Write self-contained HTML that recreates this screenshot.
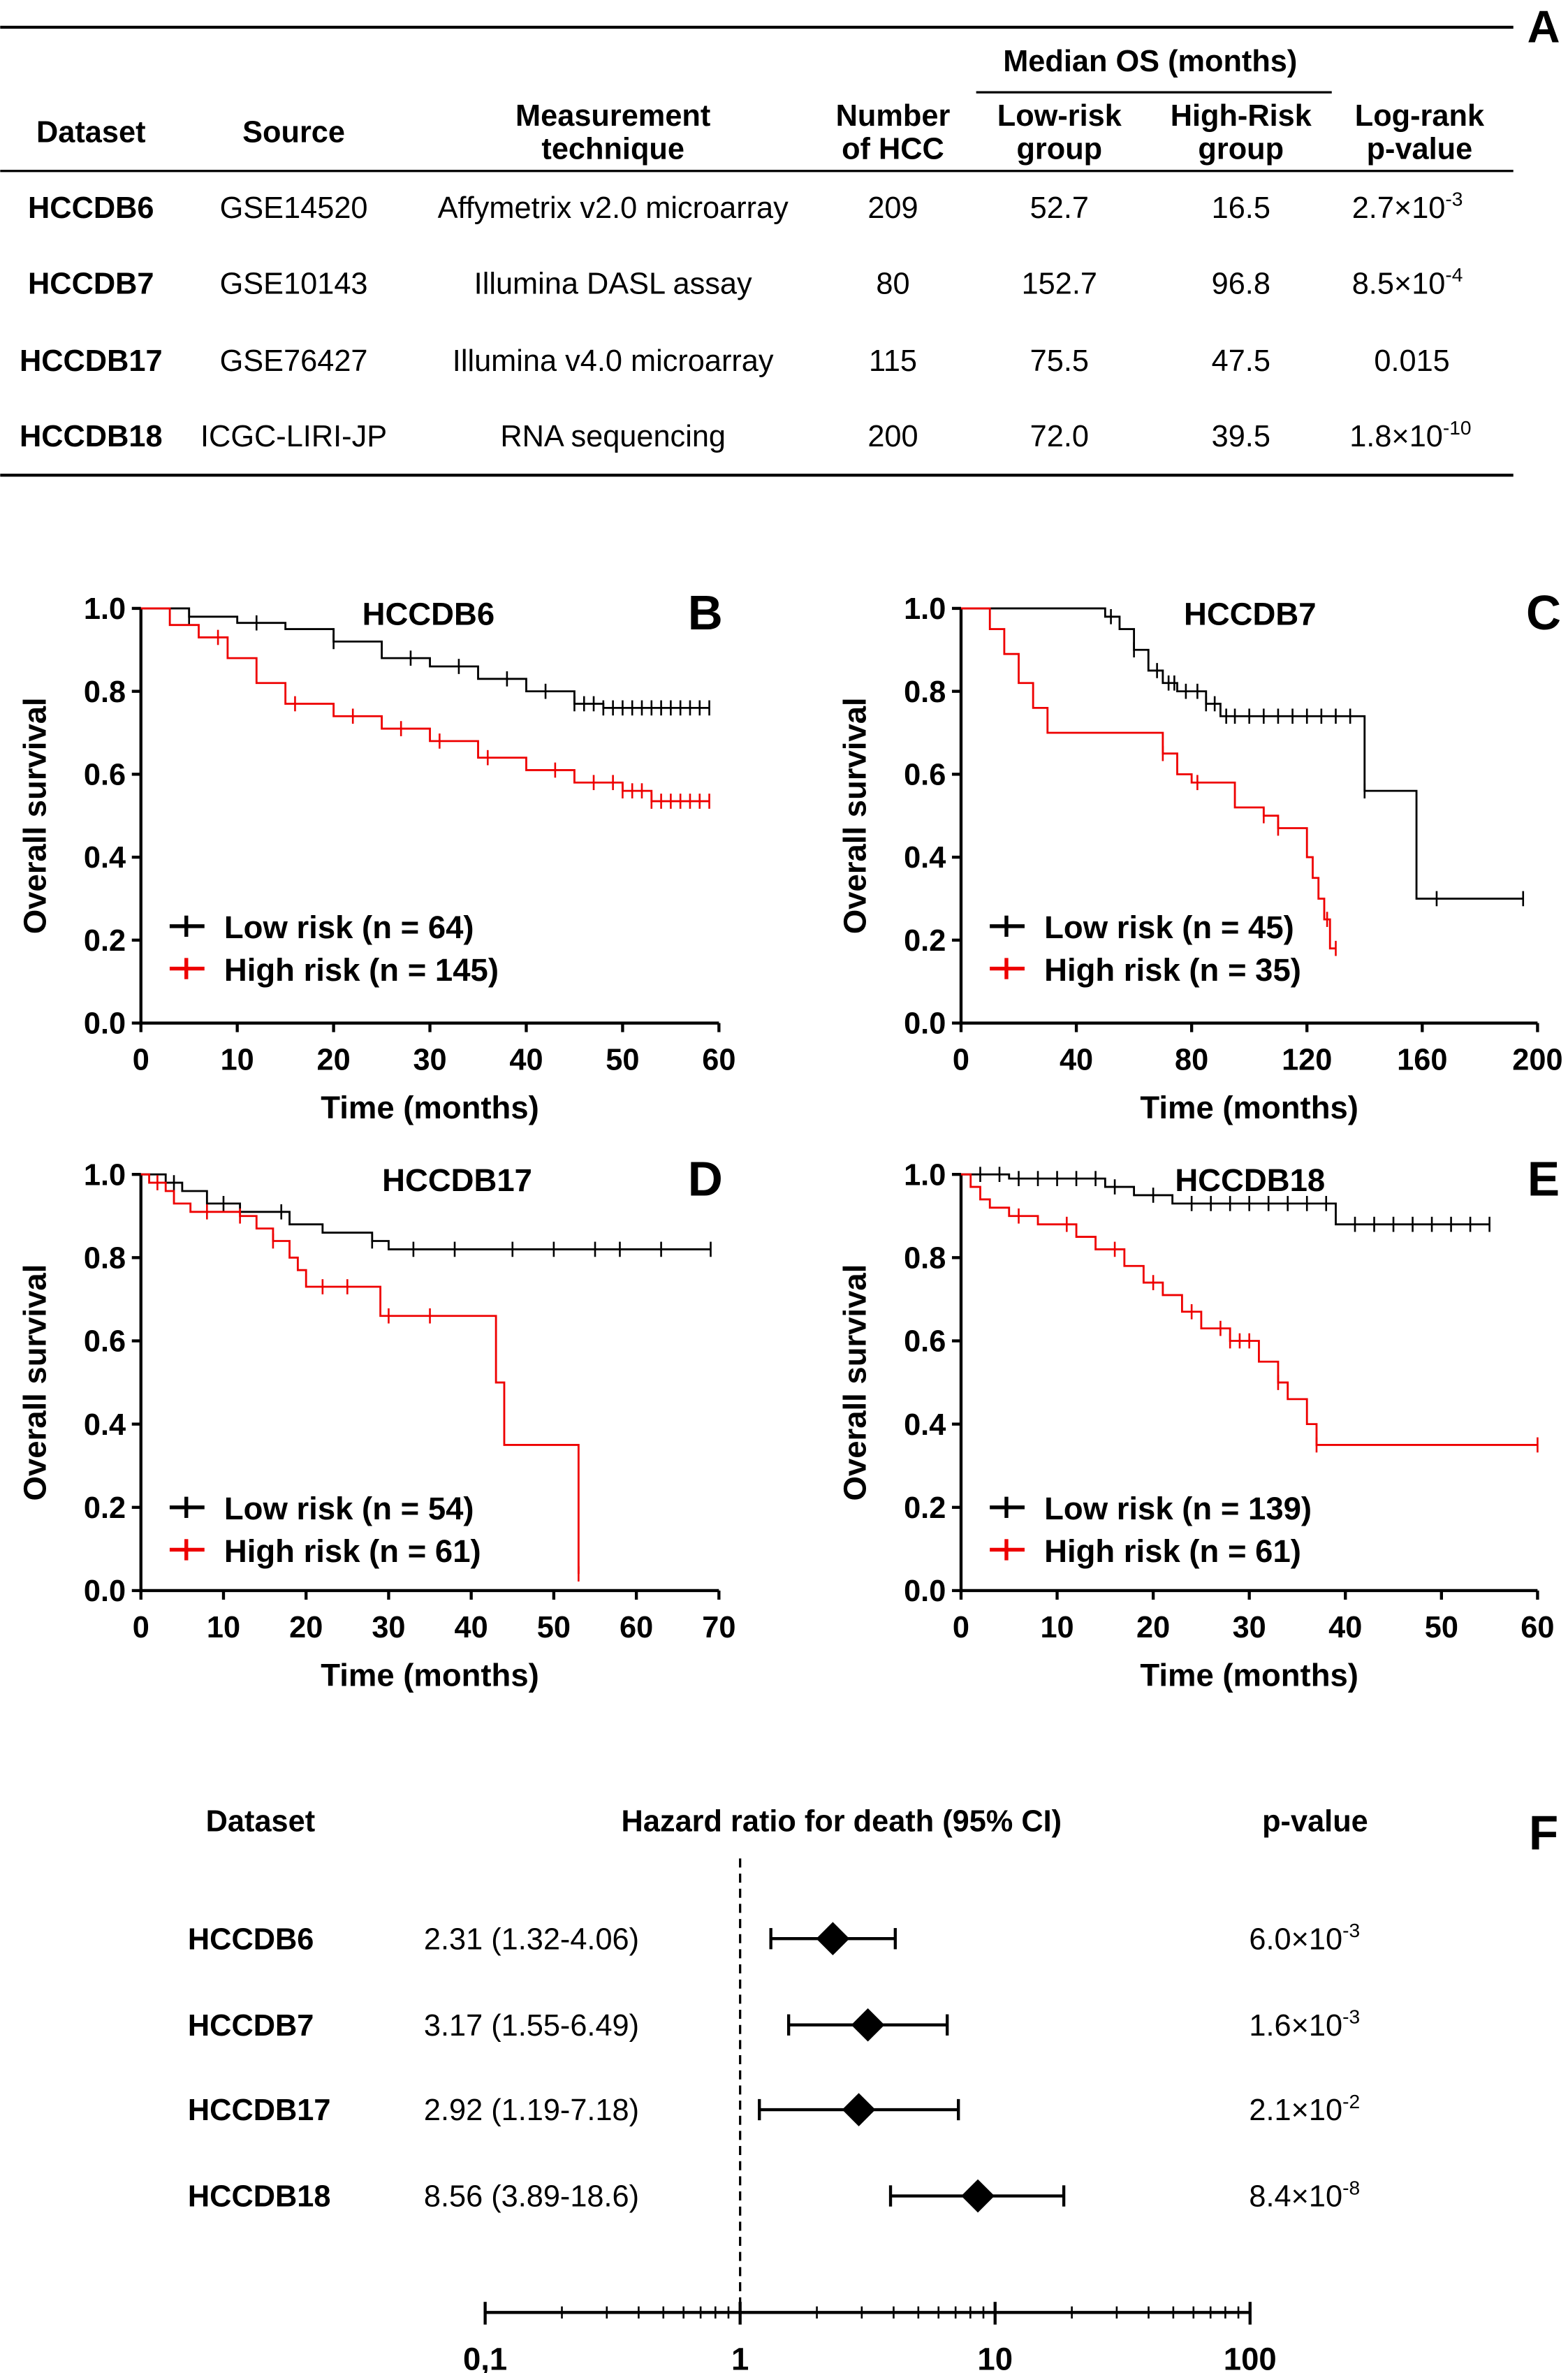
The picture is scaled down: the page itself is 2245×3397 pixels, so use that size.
<!DOCTYPE html>
<html><head><meta charset="utf-8"><style>
html,body{margin:0;padding:0;background:#fff}
svg{display:block;font-family:"Liberation Sans",Arial,sans-serif}
</style></head><body>
<svg id="fig" width="2245" height="3397" viewBox="0 0 1036 1568" xmlns="http://www.w3.org/2000/svg">
<g id="table" font-size="20" text-anchor="middle">
<line x1="0" y1="18" x2="1000" y2="18" stroke="#000" stroke-width="2"/>
<text x="1020" y="28" font-size="30" font-weight="bold">A</text>
<text x="760" y="47" font-weight="bold">Median OS (months)</text>
<line x1="645" y1="61" x2="880" y2="61" stroke="#000" stroke-width="1.5"/>
<g font-weight="bold">
<text x="60" y="94">Dataset</text><text x="194" y="94">Source</text>
<text x="405" y="83">Measurement</text><text x="405" y="105">technique</text>
<text x="590" y="83">Number</text><text x="590" y="105">of HCC</text>
<text x="700" y="83">Low-risk</text><text x="700" y="105">group</text>
<text x="820" y="83">High-Risk</text><text x="820" y="105">group</text>
<text x="938" y="83">Log-rank</text><text x="938" y="105">p-value</text>
</g>
<line x1="0" y1="113" x2="1000" y2="113" stroke="#000" stroke-width="1.5"/>
<g>
<text x="60" y="144" font-weight="bold">HCCDB6</text><text x="194" y="144">GSE14520</text><text x="405" y="144">Affymetrix v2.0 microarray</text><text x="590" y="144">209</text><text x="700" y="144">52.7</text><text x="820" y="144">16.5</text><text x="930" y="144">2.7×10<tspan font-size="13" dy="-8">-3</tspan></text>
<text x="60" y="194" font-weight="bold">HCCDB7</text><text x="194" y="194">GSE10143</text><text x="405" y="194">Illumina DASL assay</text><text x="590" y="194">80</text><text x="700" y="194">152.7</text><text x="820" y="194">96.8</text><text x="930" y="194">8.5×10<tspan font-size="13" dy="-8">-4</tspan></text>
<text x="60" y="245" font-weight="bold">HCCDB17</text><text x="194" y="245">GSE76427</text><text x="405" y="245">Illumina v4.0 microarray</text><text x="590" y="245">115</text><text x="700" y="245">75.5</text><text x="820" y="245">47.5</text><text x="933" y="245">0.015</text>
<text x="60" y="295" font-weight="bold">HCCDB18</text><text x="194" y="295">ICGC-LIRI-JP</text><text x="405" y="295">RNA sequencing</text><text x="590" y="295">200</text><text x="700" y="295">72.0</text><text x="820" y="295">39.5</text><text x="932" y="295">1.8×10<tspan font-size="13" dy="-8">-10</tspan></text>
</g>
<line x1="0" y1="314" x2="1000" y2="314" stroke="#000" stroke-width="2"/>
</g>
</svg>
<script>
// ---- KM data ----
const bLowT=[0,5,10,15,20,25,30,35,40,45,48,59];
const bLowS=[1,0.98,0.965,0.95,0.92,0.88,0.86,0.83,0.80,0.77,0.76,0.76];
const bLowC=[5,12,20,28,33,38,42,45,46,47,48,49,50,51,52,53,54,55,56,57,58,59];
const bHighT=[0,3,6,9,12,15,20,25,30,35,40,45,50,53,59];
const bHighS=[1,0.96,0.93,0.88,0.82,0.77,0.74,0.71,0.68,0.64,0.61,0.58,0.56,0.535,0.535];
const bHighC=[8,16,22,27,31,36,43,47,49,50,51,52,53,54,55,56,57,58,59];
const cLowT=[0,50,55,60,65,70,75,85,90,140,158,195];
const cLowS=[1,0.98,0.95,0.9,0.85,0.82,0.8,0.77,0.74,0.56,0.30,0.30];
const cLowC=[52,60,68,72,74,78,82,85,88,92,95,100,105,110,115,120,125,130,135,140,165,195];
const cHighT=[0,10,15,20,25,30,70,75,80,95,105,110,120,122,124,126,128,130];
const cHighS=[1,0.95,0.89,0.82,0.76,0.7,0.65,0.6,0.58,0.52,0.5,0.47,0.4,0.35,0.3,0.25,0.18,0.18];
const cHighC=[70,82,105,110,127,130];
const dLowT=[0,3,5,8,12,18,22,28,30,69];
const dLowS=[1,0.98,0.96,0.93,0.91,0.88,0.86,0.84,0.82,0.82];
const dLowC=[4,10,17,28,33,38,45,50,55,58,63,69];
const dHighT=[0,1,3,4,6,12,14,16,18,19,20,29,43,44,53];
const dHighS=[1,0.98,0.96,0.93,0.91,0.9,0.87,0.84,0.8,0.77,0.73,0.66,0.5,0.35,0.04];
const dHighC=[2,8,12,16,22,25,30,35,53];
const eLowT=[0,5,15,18,22,39,55];
const eLowS=[1,0.99,0.97,0.95,0.93,0.88,0.88];
const eLowC=[2,4,6,8,10,12,14,16,20,24,26,28,30,32,34,36,38,41,43,45,47,49,51,53,55];
const eHighT=[0,1,2,3,5,8,12,14,17,19,21,23,25,28,31,33,34,36,37,60];
const eHighS=[1,0.97,0.94,0.92,0.9,0.88,0.85,0.82,0.78,0.74,0.71,0.67,0.63,0.6,0.55,0.5,0.46,0.4,0.35,0.35];
const eHighC=[6,11,16,20,24,27,28,29,30,33,37,60];
// ---- Forest data ----
const fNames=["HCCDB6","HCCDB7","HCCDB17","HCCDB18"];
const fHR=[2.31,3.17,2.92,8.56];
const fLo=[1.32,1.55,1.19,3.89];
const fHi=[4.06,6.49,7.18,18.6];
const fLabels=["2.31 (1.32-4.06)","3.17 (1.55-6.49)","2.92 (1.19-7.18)","8.56 (3.89-18.6)"];
const fP=[["6.0×10","-3"],["1.6×10","-3"],["2.1×10","-2"],["8.4×10","-8"]];
const fTicks=[0.1,1,10,100];
const fTickLabels=["0,1","1","10","100"];

const NS="http://www.w3.org/2000/svg";
const svg=document.getElementById('fig');
function el(tag,attrs,parent,txt){const e=document.createElementNS(NS,tag);for(const k in attrs)e.setAttribute(k,attrs[k]);if(txt!==undefined)e.textContent=txt;(parent||svg).appendChild(e);return e;}

function panel(o){
  const g=el('g',{});
  
  
  const sx=t=>o.x0+(t-0)/(o.xmax)*(o.x1-o.x0);
  const sy=s=>o.y0-(s)*(o.y0-o.y1);
  el('line',{x1:o.x0,y1:o.y0,x2:o.x1,y2:o.y0,stroke:'#000','stroke-width':2},g);
  el('line',{x1:o.x0,y1:o.y0,x2:o.x0,y2:o.y1,stroke:'#000','stroke-width':2},g);
  for(let v=0;v<=1.0001;v+=0.2){
    el('line',{x1:o.x0-6,y1:sy(v),x2:o.x0,y2:sy(v),stroke:'#000','stroke-width':2},g);
    el('text',{x:o.x0-10,y:sy(v)+7,'text-anchor':'end','font-size':20,'font-weight':'bold'},g,v.toFixed(1));
  }
  for(let v=0;v<=o.xmax;v+=o.xstep){
    el('line',{x1:sx(v),y1:o.y0,x2:sx(v),y2:o.y0+6,stroke:'#000','stroke-width':2},g);
    el('text',{x:sx(v),y:o.y0+31,'text-anchor':'middle','font-size':20,'font-weight':'bold'},g,String(v));
  }
  const yl=el('text',{x:0,y:0,'text-anchor':'middle','font-size':21,'font-weight':'bold',transform:`translate(${o.x0-63},${(o.y0+o.y1)/2}) rotate(-90)`},g,'Overall survival');
  
  
  const xl=el('text',{x:(o.x0+o.x1)/2,y:o.y0+63,'text-anchor':'middle','font-size':21,'font-weight':'bold'},g,'Time (months)');
  
  
  el('text',{x:o.tx,y:o.y1+11,'text-anchor':'middle','font-size':21,'font-weight':'bold'},g,o.title);
  el('text',{x:o.lx,y:o.y1+14,'text-anchor':'middle','font-size':32,'font-weight':'bold'},g,o.letter);
  const series=[[o.lowT,o.lowS,o.lowC,'#000'],[o.highT,o.highS,o.highC,'#e00']];
  series.forEach((s,i)=>{
    const [T,S,C,col]=s;
    let d=`M${sx(T[0])},${sy(S[0])}`;
    for(let k=1;k<T.length;k++){d+=` H${sx(T[k])} V${sy(S[k])}`;}
    const p=el('path',{d,fill:'none',stroke:col,'stroke-width':1.3},g);
    
    
    C.forEach(c=>{
      let sv=S[0];for(let k=0;k<T.length;k++)if(T[k]<=c)sv=S[k];
      el('line',{x1:sx(c),y1:sy(sv)-5,x2:sx(c),y2:sy(sv)+5,stroke:col,'stroke-width':1.2},g);
    });
    const ly=o.legY+i*28;
    el('line',{x1:o.x0+19,y1:ly,x2:o.x0+42,y2:ly,stroke:col,'stroke-width':2.5},g);
    el('line',{x1:o.x0+30,y1:ly-7,x2:o.x0+30,y2:ly+7,stroke:col,'stroke-width':2.5},g);
    const lt=el('text',{x:o.x0+55,y:ly+8,'font-size':21,'font-weight':'bold'},g,i?o.highLab:o.lowLab);
    
    
  });
}
panel({name:'km-plot-hccdb6',x0:93,x1:475,xmax:60,xstep:10,y0:676,y1:402,title:'HCCDB6',tx:283,letter:'B',lx:466,legY:612,lowT:bLowT,lowS:bLowS,lowC:bLowC,highT:bHighT,highS:bHighS,highC:bHighC,lowLab:'Low risk (n = 64)',highLab:'High risk (n = 145)'});
panel({name:'km-plot-hccdb7',x0:635,x1:1016,xmax:200,xstep:40,y0:676,y1:402,title:'HCCDB7',tx:826,letter:'C',lx:1020,legY:612,lowT:cLowT,lowS:cLowS,lowC:cLowC,highT:cHighT,highS:cHighS,highC:cHighC,lowLab:'Low risk (n = 45)',highLab:'High risk (n = 35)'});
panel({name:'km-plot-hccdb17',x0:93,x1:475,xmax:70,xstep:10,y0:1051,y1:776,title:'HCCDB17',tx:302,letter:'D',lx:466,legY:996,lowT:dLowT,lowS:dLowS,lowC:dLowC,highT:dHighT,highS:dHighS,highC:dHighC,lowLab:'Low risk (n = 54)',highLab:'High risk (n = 61)'});
panel({name:'km-plot-hccdb18',x0:635,x1:1016,xmax:60,xstep:10,y0:1051,y1:776,title:'HCCDB18',tx:826,letter:'E',lx:1020,legY:996,lowT:eLowT,lowS:eLowS,lowC:eLowC,highT:eHighT,highS:eHighS,highC:eHighC,lowLab:'Low risk (n = 139)',highLab:'High risk (n = 61)'});

// forest
const fg=el('g',{});


const lx=v=>489+Math.log10(v)*168.5;
el('line',{x1:lx(0.1),y1:1528,x2:lx(100),y2:1528,stroke:'#000','stroke-width':2},fg);
fTicks.forEach((t,i)=>{
  el('line',{x1:lx(t),y1:1521,x2:lx(t),y2:1536,stroke:'#000','stroke-width':2},fg);
  if(i<fTicks.length-1)for(let m=2;m<10;m++)el('line',{x1:lx(t*m),y1:1524,x2:lx(t*m),y2:1532,stroke:'#000','stroke-width':1.2},fg);
  el('text',{x:lx(t),y:1566,'text-anchor':'middle','font-size':21,'font-weight':'bold'},fg,fTickLabels[i]);
});
el('line',{x1:lx(1),y1:1228,x2:lx(1),y2:1528,stroke:'#000','stroke-width':1.5,'stroke-dasharray':'6,4'},fg);
el('text',{x:172,y:1210,'text-anchor':'middle','font-size':20,'font-weight':'bold'},fg,'Dataset');
el('text',{x:556,y:1210,'text-anchor':'middle','font-size':20,'font-weight':'bold'},fg,'Hazard ratio for death (95% CI)');
el('text',{x:869,y:1210,'text-anchor':'middle','font-size':20,'font-weight':'bold'},fg,'p-value');
el('text',{x:1020,y:1222,'text-anchor':'middle','font-size':32,'font-weight':'bold'},fg,'F');
const rowY=[1281,1338,1394,1451];
fNames.forEach((n,i)=>{
  const y=rowY[i];
  el('text',{x:124,y:y+7,'font-size':20,'font-weight':'bold'},fg,n);
  el('text',{x:280,y:y+7,'font-size':20},fg,fLabels[i]);
  const pt=el('text',{x:862,y:y+7,'text-anchor':'middle','font-size':20},fg,fP[i][0]);
  el('tspan',{'font-size':13,dy:-8},pt,fP[i][1]);
  el('line',{x1:lx(fLo[i]),y1:y,x2:lx(fHi[i]),y2:y,stroke:'#000','stroke-width':2},fg);
  el('line',{x1:lx(fLo[i]),y1:y-7,x2:lx(fLo[i]),y2:y+7,stroke:'#000','stroke-width':2},fg);
  el('line',{x1:lx(fHi[i]),y1:y-7,x2:lx(fHi[i]),y2:y+7,stroke:'#000','stroke-width':2},fg);
  const x=lx(fHR[i]);
  const dm=el('polygon',{points:`${x},${y-11} ${x+11},${y} ${x},${y+11} ${x-11},${y}`,fill:'#000'},fg);
  
  
});
</script>
</body></html>
